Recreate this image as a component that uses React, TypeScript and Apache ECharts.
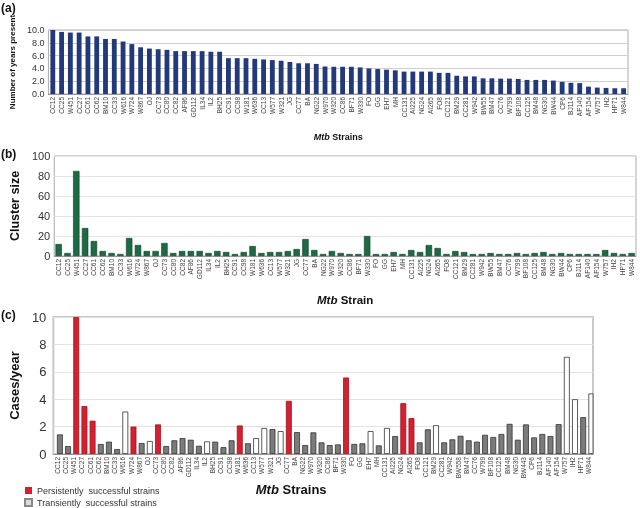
import React, { useEffect, useRef } from "react";
import * as echarts from "echarts";

const strainsA = ["CC12","CC25","W451","CC27","CC61","CC62","BM10","CC33","W616","W724","W867","OJ","CC73","CC80","CC82","AF86","GD112","IL34","IL2","BH25","CC91","CC98","W181","W636","CC13","W577","W321","JG","CC77","BA","NG22","W970","W320","CC86","BF71","W330","FO","GG","EH7","MH","CC131","AI225","NG24","AI265","FO8","CC121","BM29","CC281","W942","BW55","BM47","CC76","W799","BF108","CC125","BM48","NG30","BW44","CP6","BJ114","AF140","AF154","W757","IH2","HP71","W844"];
const strainsC = ["CC12","CC25","W451","CC27","CC61","CC62","BM10","CC33","W616","W724","W867","OJ","CC73","CC80","CC82","AF86","GD112","IL34","IL2","BH25","CC91","CC98","W181","W636","CC13","W577","W321","JG","CC77","BA","NG22","W970","W320","CC86","BF71","W330","FO","GG","EH7","MH","CC131","AI225","NG24","AI265","FO8","CC121","BM29","CC281","W942","BW558","BM47","CC76","W799","BF108","CC125","BM48","NG30","BW443","CP6","BJ114","AF140","AF154","W757","IH2","HP71","W844"];

const yearsPresent = [10.0,9.7,9.6,9.6,9.0,9.0,8.6,8.6,8.2,7.8,7.3,7.1,7.0,6.9,6.7,6.7,6.7,6.7,6.6,6.6,5.6,5.6,5.6,5.5,5.4,5.3,5.2,5.0,4.8,4.8,4.7,4.3,4.25,4.25,4.25,4.15,4.0,3.9,3.8,3.7,3.5,3.5,3.5,3.5,3.3,3.3,2.85,2.75,2.75,2.45,2.45,2.4,2.4,2.35,2.2,2.2,2.2,2.1,1.9,1.75,1.7,1.15,1.0,0.95,0.9,0.9];

const clusterSize = [12,3,85,28,15,5,3,2,18,11,5,5,13,3,5,5,5,3,5,4,2,4,10,3,4,4,5,7,17,6,2,5,3,2,2,20,2,2,4,2,6,4,11,8,2,5,4,2,2,3,2,2,3,2,3,4,2,3,2,2,2,2,6,3,2,3];

const casesPerYear = [1.43,0.58,10,3.5,2.43,0.73,0.9,0.36,3.1,2.0,0.8,0.95,2.16,0.58,1.0,1.16,1.04,0.6,0.92,0.9,0.5,1.0,2.08,0.78,1.16,1.9,1.82,1.67,3.88,1.6,0.65,1.58,0.85,0.65,0.7,5.58,0.73,0.78,1.67,0.63,1.9,1.31,3.71,2.62,0.85,1.8,2.1,0.85,1.07,1.33,1.0,0.9,1.4,1.24,1.46,2.2,1.04,2.16,1.21,1.46,1.31,2.18,7.09,4.0,2.69,4.42];
// P = persistently successful, T = transiently successful, O = other
const strainType = ["O","O","P","P","P","O","O","O","T","P","O","T","P","O","O","O","O","O","T","O","O","O","P","O","T","T","O","T","P","O","O","O","O","O","O","P","O","O","T","O","T","O","P","P","O","O","T","O","O","O","O","O","O","O","O","O","O","O","O","O","O","O","T","T","O","T"];

const yTicksA = [0, 2, 4, 6, 8, 10];
const yTicksB = [0, 20, 40, 60, 80, 100];
const yTicksC = [0, 2, 4, 6, 8, 10];

const FONT = "Liberation Sans, Arial, sans-serif";
const RED = "#d4202f";
const GRAY = "#7b7b7b";

export default function App() {
  const ref = useRef<HTMLDivElement>(null);
  useEffect(() => {
    if (!ref.current) return;
    const chart = echarts.init(ref.current, null, { renderer: "svg" });
    const xAxisBase = (cats: string[], gridIndex: number) => ({
      type: "category",
      gridIndex,
      data: cats,
      axisTick: { show: false },
      axisLine: { lineStyle: { color: "#999" } },
      axisLabel: { interval: 0, rotate: 90, fontSize: 6.5, color: "#444", margin: 3, fontFamily: FONT },
    });
    const nameRich = (size: number) => ({
      fontFamily: FONT,
      fontWeight: "bold",
      fontSize: size,
      color: "#111",
      rich: { i: { fontStyle: "italic", fontWeight: "bold", fontSize: size, fontFamily: FONT, color: "#111" } },
    });
    const cData = casesPerYear.map((v, i) => {
      const t = strainType[i];
      return {
        value: v,
        itemStyle: {
          color: t === "P" ? RED : t === "T" ? "#ffffff" : GRAY,
          borderColor: t === "P" ? "#a0101c" : "#333",
          borderWidth: 0.8,
        },
      };
    });
    chart.setOption({
      animation: false,
      textStyle: { fontFamily: FONT },
      grid: [
        { left: 33, right: 12, top: 30, height: 64, show: true, borderColor: "#aaa", borderWidth: 1 },
        { left: 49, right: 4, top: 156, height: 100, show: true, borderColor: "#aaa", borderWidth: 1 },
        { left: 44, right: 47, top: 317, height: 137, show: true, borderColor: "#c8c8c8", borderWidth: 2 },
      ],
      xAxis: [
        { ...xAxisBase(strainsA, 0), name: "{i|Mtb} Strains", nameLocation: "middle", nameGap: 38, nameTextStyle: nameRich(9) },
        { ...xAxisBase(strainsA, 1), name: "{i|Mtb} Strain", nameLocation: "middle", nameGap: 38, nameTextStyle: nameRich(11.5) },
        { ...xAxisBase(strainsC, 2), name: "{i|Mtb} Strains", nameLocation: "middle", nameGap: 29, nameTextStyle: { ...nameRich(13), padding: [0, 64, 0, 0] } },
      ],
      yAxis: [
        {
          type: "value", gridIndex: 0, min: yTicksA[0], max: yTicksA[yTicksA.length - 1], interval: 2,
          name: "Number of years present", nameLocation: "middle", nameGap: 22, nameTextStyle: nameRich(8),
          axisLabel: { fontSize: 9, color: "#333", margin: 4, formatter: (v: number) => v.toFixed(1) },
          splitLine: { lineStyle: { color: "#cfcfcf" } },
        },
        {
          type: "value", gridIndex: 1, min: yTicksB[0], max: yTicksB[yTicksB.length - 1], interval: 20,
          name: "Cluster size", nameLocation: "middle", nameGap: 30, nameTextStyle: nameRich(12.5),
          axisLabel: { fontSize: 11, color: "#333", margin: 4 },
          splitLine: { lineStyle: { color: "#e2e2e2" } },
        },
        {
          type: "value", gridIndex: 2, min: yTicksC[0], max: yTicksC[yTicksC.length - 1], interval: 2,
          name: "Cases/year", nameLocation: "middle", nameGap: 22, nameTextStyle: nameRich(13),
          axisLabel: { fontSize: 13, color: "#333", margin: 7 },
          splitLine: { lineStyle: { color: "#e2e2e2" } },
        },
      ],
      legend: {
        orient: "vertical",
        left: 24,
        top: 485,
        padding: 0,
        itemWidth: 7,
        itemHeight: 7,
        itemGap: 1,
        icon: "rect",
        selectedMode: false,
        textStyle: { fontSize: 9, lineHeight: 11, color: "#333", fontFamily: FONT },
        data: ["Persistently  successful strains", "Transiently  successful strains"],
      },
      series: [
        { type: "bar", xAxisIndex: 0, yAxisIndex: 0, data: yearsPresent, barWidth: "55%", itemStyle: { color: "#223a7c" } },
        { type: "bar", xAxisIndex: 1, yAxisIndex: 1, data: clusterSize, barWidth: "72%", itemStyle: { color: "#1d6b45", borderColor: "#0c3a22", borderWidth: 0.6 } },
        { type: "bar", xAxisIndex: 2, yAxisIndex: 2, data: cData, barWidth: "72%", barGap: "-100%" },
        { type: "bar", xAxisIndex: 2, yAxisIndex: 2, name: "Persistently  successful strains", data: [], itemStyle: { color: RED } },
        { type: "bar", xAxisIndex: 2, yAxisIndex: 2, name: "Transiently  successful strains", data: [], itemStyle: { color: "#dcdcdc", borderColor: "#888", borderWidth: 1 } },
      ],
      graphic: [
        { type: "text", left: 1, top: 2, style: { text: "(a)", font: "bold 12px " + FONT, fill: "#111" } },
        { type: "text", left: 1, top: 148, style: { text: "(b)", font: "bold 12px " + FONT, fill: "#111" } },
        { type: "text", left: 1, top: 309, style: { text: "(c)", font: "bold 12px " + FONT, fill: "#111" } },
      ],
    });
    return () => chart.dispose();
  }, []);
  return <div ref={ref} style={{ position: "fixed", left: 0, top: 0, width: 640, height: 508 }} />;
}
